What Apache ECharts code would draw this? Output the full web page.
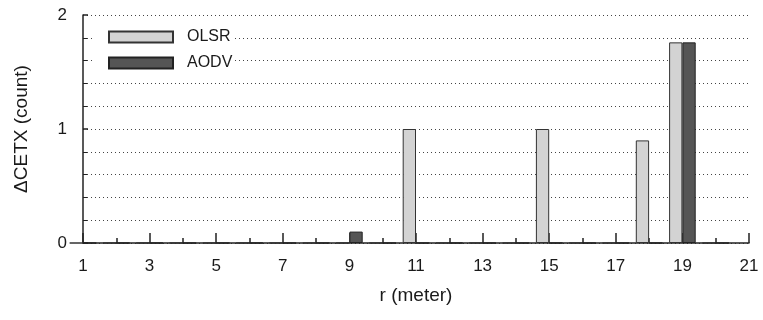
<!DOCTYPE html>
<html>
<head>
<meta charset="utf-8">
<script src="https://cdn.jsdelivr.net/npm/echarts@6/dist/echarts.min.js"></script>
<style>
html,body{margin:0;padding:0;background:#fff;}
#chart{width:763px;height:320px;}
</style>
</head>
<body>
<div id="chart"></div>
<script>
var rValues = [1, 2, 3, 4, 5, 6, 7, 8, 9, 10, 11, 12, 13, 14, 15, 16, 17, 18, 19, 20];
var olsrValues = [0, 0, 0, 0, 0, 0, 0, 0, 0, 0, 1.0, 0, 0, 0, 1.0, 0, 0, 0.9, 1.76, 0];
var aodvValues = [0, 0, 0, 0, 0, 0, 0, 0, 0.1, 0, 0, 0, 0, 0, 0, 0, 0, 0, 1.76, 0];
var seriesNames = ['OLSR', 'AODV'];
var xAxisTitle = 'r (meter)';
var yAxisTitle = '\u0394CETX (count)';

function pairs(vals) {
  return rValues.map(function (r, i) { return [r, vals[i]]; });
}

var FONT = 'Liberation Sans, Arial, sans-serif';
var chart = echarts.init(document.getElementById('chart'), null, {renderer: 'canvas'});
chart.setOption({
  animation: false,
  backgroundColor: '#ffffff',
  textStyle: {fontFamily: FONT, color: '#1a1a1a'},
  grid: {left: 83, right: 14, top: 15, bottom: 77, containLabel: false},
  legend: {
    orient: 'vertical',
    left: 95,
    top: 27,
    padding: [2, 2, 2, 13],
    backgroundColor: '#ffffff',
    icon: 'rect',
    itemWidth: 64,
    itemHeight: 11,
    itemGap: 10,
    textStyle: {fontFamily: FONT, fontSize: 16, color: '#1a1a1a', padding: [0, 0, 0, 9]},
    data: seriesNames
  },
  xAxis: {
    type: 'value',
    min: 1,
    max: 21,
    interval: 2,
    name: xAxisTitle,
    nameLocation: 'middle',
    nameGap: 43,
    nameTextStyle: {fontFamily: FONT, fontSize: 19, color: '#1a1a1a'},
    axisLine: {show: true, onZero: false, lineStyle: {color: '#222', width: 1.5}},
    axisTick: {show: true, inside: true, length: 10, lineStyle: {color: '#222', width: 1.5}},
    minorTick: {show: true, splitNumber: 2, length: 5, lineStyle: {color: '#222', width: 1.5}},
    axisLabel: {fontFamily: FONT, fontSize: 17, color: '#1a1a1a', margin: 15},
    splitLine: {show: false}
  },
  yAxis: {
    type: 'value',
    min: 0,
    max: 2,
    interval: 1,
    name: yAxisTitle,
    nameLocation: 'middle',
    nameGap: 52,
    nameTextStyle: {fontFamily: FONT, fontSize: 19, color: '#1a1a1a'},
    axisLine: {show: true, lineStyle: {color: '#222', width: 1.5}},
    axisTick: {show: true, inside: true, length: 5, lineStyle: {color: '#222', width: 1.5}},
    minorTick: {show: true, splitNumber: 5, length: 4, lineStyle: {color: '#222', width: 1}},
    axisLabel: {fontFamily: FONT, fontSize: 17, color: '#1a1a1a', margin: 16},
    splitLine: {show: true, lineStyle: {color: '#444', width: 1, type: [1, 3]}},
    minorSplitLine: {show: true, lineStyle: {color: '#444', width: 1, type: [1, 3]}}
  },
  series: [
    {
      name: seriesNames[0],
      type: 'bar',
      data: pairs(olsrValues),
      barWidth: 13.3,
      barGap: '0%',
      itemStyle: {color: '#d3d3d3', borderColor: '#333', borderWidth: 1}
    },
    {
      name: seriesNames[1],
      type: 'bar',
      data: pairs(aodvValues),
      barWidth: 13.3,
      barGap: '0%',
      itemStyle: {color: '#555555', borderColor: '#222', borderWidth: 1}
    }
  ]
});
</script>
</body>
</html>
